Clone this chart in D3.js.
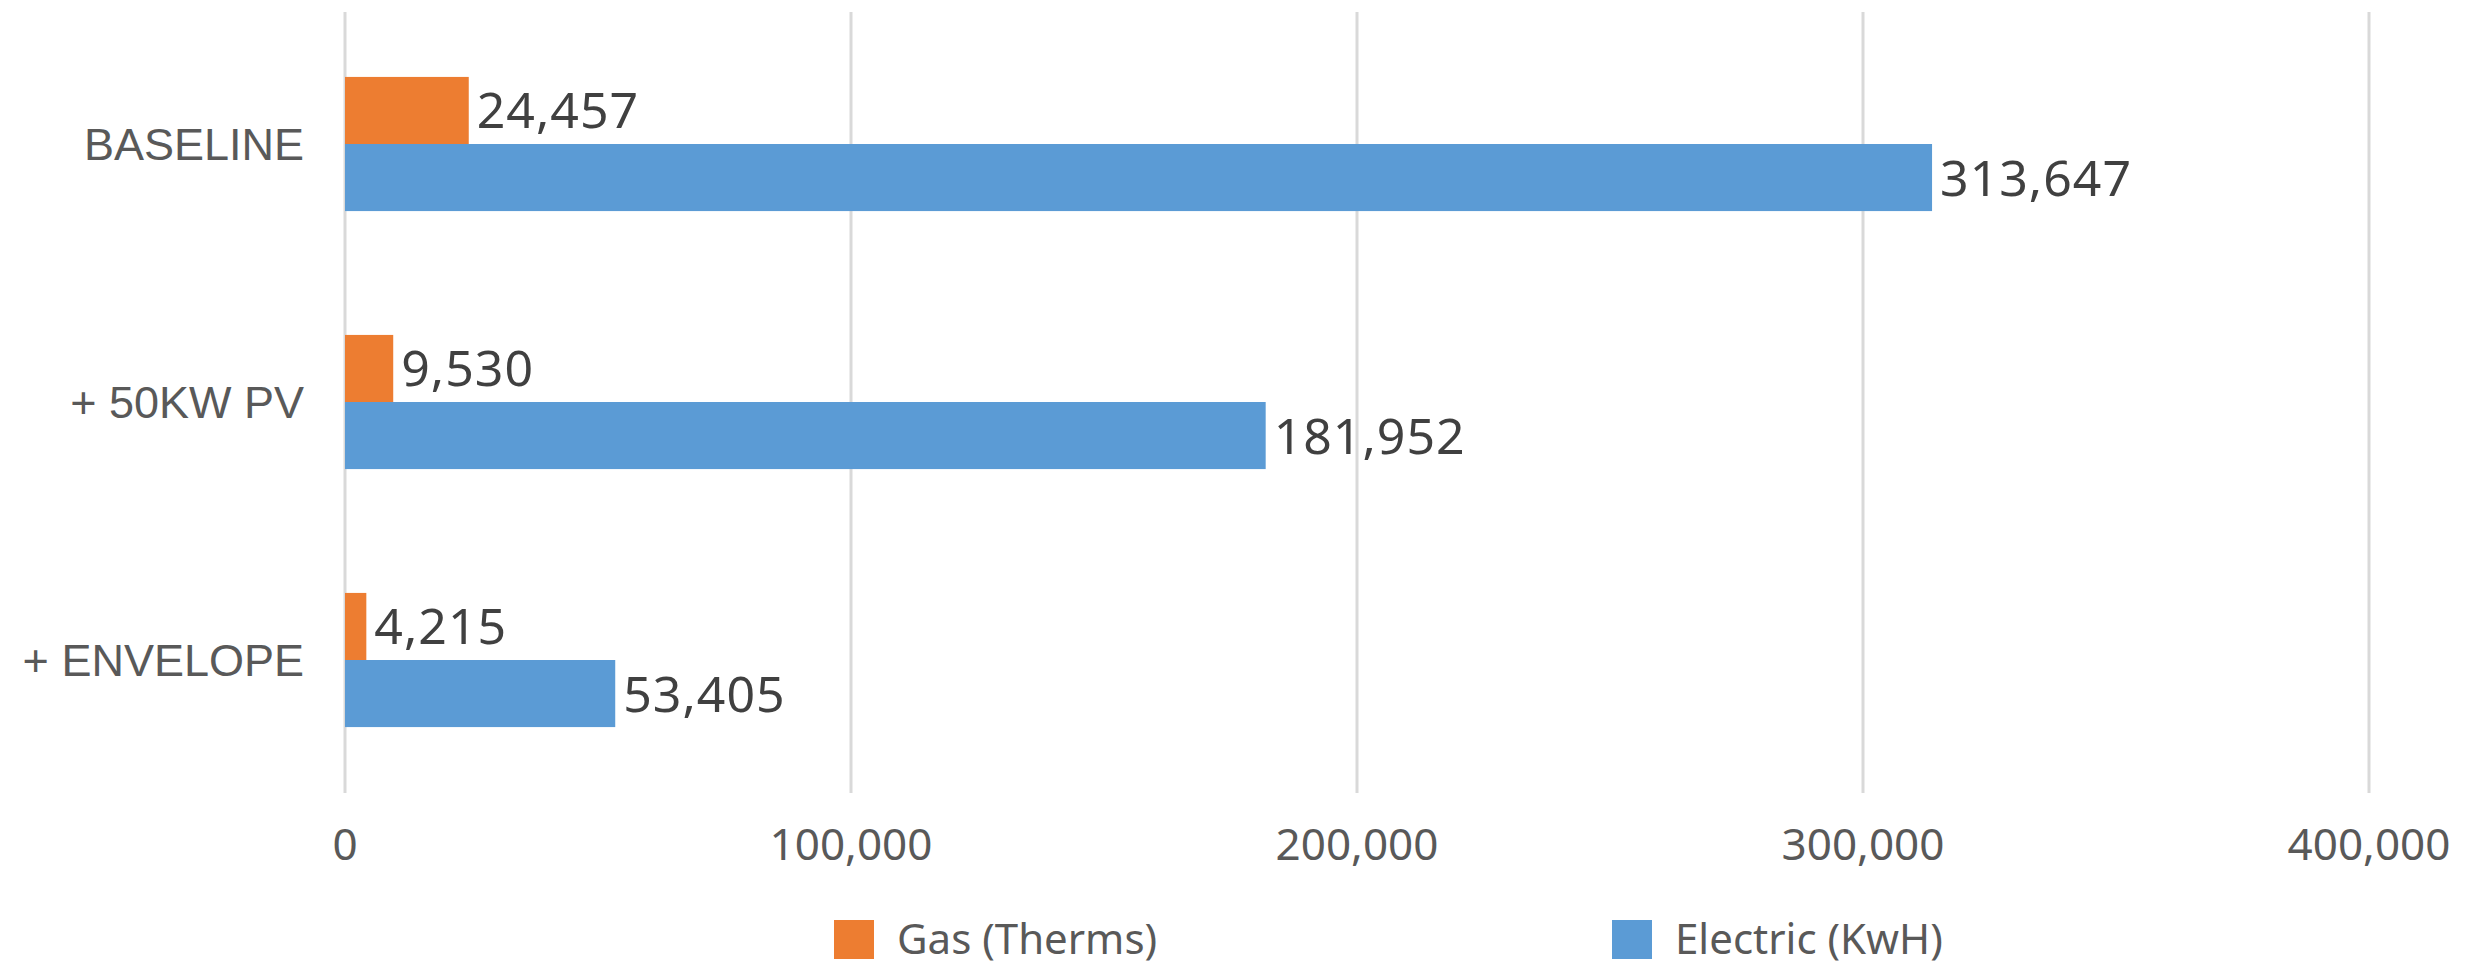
<!DOCTYPE html>
<head>
    <meta charset="utf-8">
    <title>Gas and electric use by scenario</title>
    <style>
        body { margin: 0; background: #fff; }
        .grid line { stroke: #d9d9d9; stroke-width: 3; }
        .cat { font-family: "Liberation Sans", Arial, sans-serif; font-size: 45px; fill: #595959; }
        .tick-label { font-family: "Noto Sans", sans-serif; font-size: 44px; fill: #595959; }
        .value { font-family: "Noto Sans", sans-serif; font-size: 50px; fill: #404040; letter-spacing: 1px; }
        .legend text { font-family: "Noto Sans", sans-serif; font-size: 42px; fill: #595959; }
    </style>
</head>
<body>
<svg width="2482" height="966"></svg>

<script src="https://d3js.org/d3.v7.min.js"></script>
<script>

    // data
    var categories = ["BASELINE", "+ 50KW PV", "+ ENVELOPE"];
    var seriesNames = ["Gas (Therms)", "Electric (KwH)"];
    var gasValues = [24457, 9530, 4215];
    var electricValues = [313647, 181952, 53405];
    var tickValues = [0, 100000, 200000, 300000, 400000];
    var colors = ["#ed7d31", "#5b9bd5"];

    var svg = d3.select("svg");

    // scales
    var x = d3.scaleLinear()
        .domain([0, 400000])
        .range([345, 2369]);

    var y0 = d3.scaleBand()
        .domain(categories)
        .range([15, 789])
        .paddingInner(0.48)
        .paddingOuter(0.24);

    var y1 = d3.scaleBand()
        .domain(seriesNames)
        .range([0, y0.bandwidth()]);

    var color = d3.scaleOrdinal().domain(seriesNames).range(colors);

    var fmt = d3.format(",");

    // gridlines
    svg.append("g")
        .attr("class", "grid")
        .selectAll("line")
        .data(tickValues)
        .enter().append("line")
            .attr("x1", d => x(d))
            .attr("x2", d => x(d))
            .attr("y1", 12)
            .attr("y2", 793);

    // tick labels
    svg.append("g")
        .selectAll("text")
        .data(tickValues)
        .enter().append("text")
            .attr("class", "tick-label")
            .attr("x", d => x(d))
            .attr("y", 860)
            .attr("text-anchor", "middle")
            .text(d => fmt(d));

    // rows: one group per category
    var rows = categories.map((c, i) => ({
        cat: c,
        values: [
            { key: seriesNames[0], value: gasValues[i] },
            { key: seriesNames[1], value: electricValues[i] }
        ]
    }));

    var group = svg.append("g")
        .selectAll("g")
        .data(rows)
        .enter().append("g")
            .attr("transform", d => "translate(0," + y0(d.cat) + ")");

    group.selectAll("rect")
        .data(d => d.values)
        .enter().append("rect")
            .attr("x", x(0))
            .attr("y", d => y1(d.key))
            .attr("width", d => x(d.value) - x(0))
            .attr("height", y1.bandwidth())
            .attr("fill", d => color(d.key));

    group.selectAll("text.value")
        .data(d => d.values)
        .enter().append("text")
            .attr("class", "value")
            .attr("x", d => x(d.value) + 8)
            .attr("y", d => y1(d.key) + y1.bandwidth() / 2)
            .attr("dy", "0.36em")
            .text(d => fmt(d.value));

    // category labels
    svg.append("g")
        .selectAll("text")
        .data(categories)
        .enter().append("text")
            .attr("class", "cat")
            .attr("x", 304)
            .attr("y", d => y0(d) + y0.bandwidth() / 2)
            .attr("dy", "0.36em")
            .attr("text-anchor", "end")
            .text(d => d);

    // legend
    var legendX = [834, 1612];
    var legend = svg.append("g")
        .attr("class", "legend")
        .selectAll("g")
        .data(seriesNames)
        .enter().append("g")
            .attr("transform", (d, i) => "translate(" + legendX[i] + ",920)");

    legend.append("rect")
        .attr("width", 40)
        .attr("height", 39)
        .attr("fill", d => color(d));

    legend.append("text")
        .attr("x", 63)
        .attr("y", 34)
        .text(d => d);

</script>
</body>
